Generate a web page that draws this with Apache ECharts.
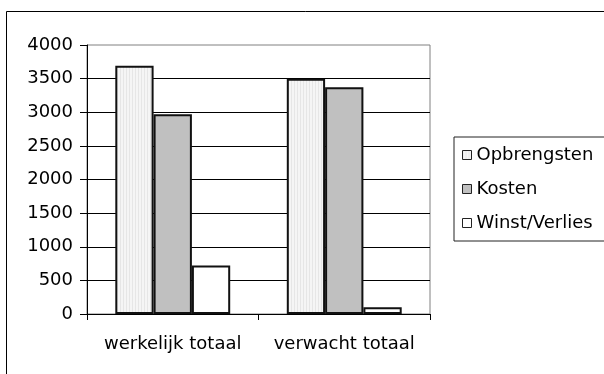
<!DOCTYPE html>
<html>
<head>
<meta charset="utf-8">
<script src="https://cdn.jsdelivr.net/npm/echarts@6/dist/echarts.min.js"></script>
<style>
  html, body { margin: 0; padding: 0; background: #fff; }
  #chart { width: 604px; height: 374px; }
</style>
</head>
<body>
<div id="chart"></div>
<script>
// Totals: actual vs expected
const categories = ['werkelijk totaal', 'verwacht totaal'];
const seriesNames = ['Opbrengsten', 'Kosten', 'Winst/Verlies'];
const opbrengsten = [3690, 3500];
const kosten = [2970, 3370];
const winstVerlies = [720, 100];
const yTicks = { min: 0, max: 4000, interval: 500 };

// Fine vertical hatching used for the revenue bars
function stripePattern() {
  const c = document.createElement('canvas');
  c.width = 3; c.height = 4;
  const ctx = c.getContext('2d');
  ctx.fillStyle = '#f5f5f5';
  ctx.fillRect(0, 0, 3, 4);
  ctx.fillStyle = '#e6e6e6';
  ctx.fillRect(0, 0, 1, 4);
  return c;
}

const font = 'DejaVu Sans';
const chart = echarts.init(document.getElementById('chart'), null, { renderer: 'canvas' });

const barBorder = { borderColor: '#111', borderWidth: 2 };

chart.setOption({
  animation: false,
  backgroundColor: '#fff',
  graphic: [{
    type: 'rect',
    z: -10,
    shape: { x: 6.5, y: 11.5, width: 700, height: 500 },
    style: { fill: 'none', stroke: '#000', lineWidth: 1 }
  }],
  grid: {
    left: 87, right: 174, top: 45, bottom: 60,
    show: true, borderColor: '#808080', borderWidth: 1, backgroundColor: 'transparent'
  },
  legend: {
    orient: 'vertical',
    left: 454, top: 137,
    padding: [8, 30, 8, 8],
    icon: 'rect',
    itemWidth: 9, itemHeight: 9,
    itemGap: 14,
    borderColor: '#222', borderWidth: 1,
    textStyle: { fontFamily: font, fontSize: 18, color: '#000', lineHeight: 20 },
    itemStyle: { borderWidth: 1, borderColor: '#222' },
    data: seriesNames
  },
  xAxis: {
    type: 'category',
    data: categories,
    axisLine: { lineStyle: { color: '#000', width: 1 } },
    axisTick: { show: true, length: 6, lineStyle: { color: '#000' } },
    axisLabel: { fontFamily: font, fontSize: 18, color: '#000', margin: 21, interval: 0 }
  },
  yAxis: {
    type: 'value',
    min: yTicks.min, max: yTicks.max, interval: yTicks.interval,
    axisLine: { show: true, lineStyle: { color: '#000', width: 1 } },
    axisTick: { show: true, length: 7, lineStyle: { color: '#000' } },
    axisLabel: {
      fontFamily: font, fontSize: 18, color: '#000', margin: 14,
      formatter: function (v) { return String(v); }
    },
    splitLine: { show: true, showMaxLine: false, lineStyle: { color: '#000', width: 1 } }
  },
  series: [
    {
      name: seriesNames[0], type: 'bar', data: opbrengsten,
      barGap: '0%', barCategoryGap: '33%',
      itemStyle: Object.assign({ color: { image: stripePattern(), repeat: 'repeat' } }, barBorder)
    },
    {
      name: seriesNames[1], type: 'bar', data: kosten,
      itemStyle: Object.assign({ color: '#c0c0c0' }, barBorder)
    },
    {
      name: seriesNames[2], type: 'bar', data: winstVerlies,
      itemStyle: Object.assign({ color: '#ffffff' }, barBorder)
    }
  ]
});
</script>
</body>
</html>
